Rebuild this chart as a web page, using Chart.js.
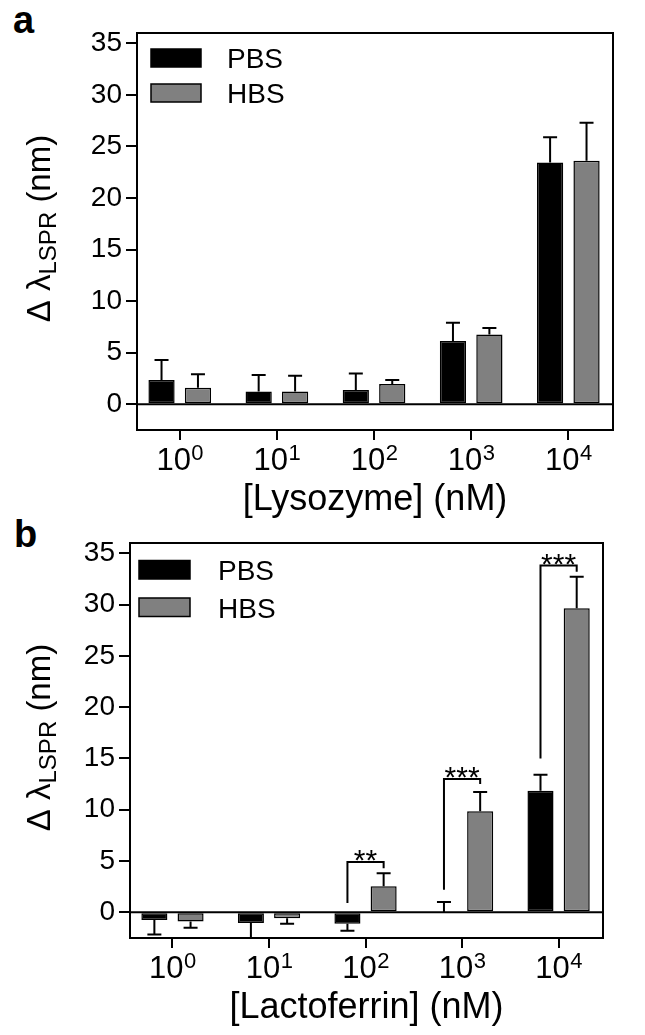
<!DOCTYPE html>
<html>
<head>
<meta charset="utf-8">
<script src="https://cdn.jsdelivr.net/npm/chart.js@4.4.0/dist/chart.umd.min.js"></script>
<style>
  html, body { margin: 0; padding: 0; background: #fff; }
  body { width: 645px; height: 1035px; position: relative; overflow: hidden; font-family: "Liberation Sans", Arial, sans-serif; }
  canvas { position: absolute; left: 0; }
  #chartA { top: 0; }
  #chartB { top: 520px; }
  .tag { position: absolute; font-weight: bold; font-size: 38px; line-height: 1; }
</style>
</head>
<body>
<div class="tag" style="left:13px;top:1px">a</div>
<div class="tag" style="left:14px;top:515px">b</div>
<canvas id="chartA" width="645" height="522"></canvas>
<canvas id="chartB" width="645" height="515"></canvas>
<script>
// ---- data ----
const tickBase = "10";
const exponents = ["0", "1", "2", "3", "4"];   // [concentration] = 10^n nM
const yTicks = [0, 5, 10, 15, 20, 25, 30, 35];
const seriesNames = ["PBS", "HBS"];

// (a) lysozyme
const lysoPBS = [2.35, 1.24, 1.39, 6.12, 23.45];
const lysoPBSErr = [1.95, 1.6, 1.58, 1.78, 2.45];
const lysoHBS = [1.6, 1.24, 1.97, 6.77, 23.6];
const lysoHBSErr = [1.3, 1.53, 0.38, 0.61, 3.7];

// (b) lactoferrin
const lactoPBS = [-0.75, -1.05, -1.1, 0, 11.85];
const lactoPBSErr = [1.4, 1.7, 0.7, 1.0, 1.55];
const lactoHBS = [-0.9, -0.58, 2.55, 9.85, 29.65];
const lactoHBSErr = [0.6, 0.52, 1.25, 1.88, 3.05];

// significance brackets in (b)
const bracketCats = [2, 3, 4];
const bracketLeft = [0.9, 2.2, 15.0];
const bracketTop = [4.9, 13.0, 33.8];
const bracketRight = [4.3, 12.5, 33.2];
const bracketLabels = ["**", "***", "***"];

const FONT = "'Liberation Sans', Arial, sans-serif";
const PBS_COLOR = "#000000";
const HBS_COLOR = "#808080";

// draws frame, zero line, error bars, brackets, legend, tick labels and titles
const decoPlugin = {
  id: "deco",
  afterDatasetsDraw(chart, args, opts) {
    const ctx = chart.ctx;
    const area = chart.chartArea;
    const y = chart.scales.y;
    ctx.save();

    // error bars (one-sided, away from zero)
    ctx.beginPath();
    ctx.rect(area.left, area.top, area.right - area.left, area.bottom - area.top);
    ctx.clip();
    ctx.strokeStyle = "#000";
    ctx.lineWidth = 2;
    chart.data.datasets.forEach((ds, i) => {
      const meta = chart.getDatasetMeta(i);
      meta.data.forEach((bar, j) => {
        const v = ds.data[j].y;
        const e = ds.errors[j];
        const tip = y.getPixelForValue(v >= 0 ? v + e : v - e);
        ctx.beginPath();
        ctx.moveTo(bar.x, bar.y);
        ctx.lineTo(bar.x, tip);
        ctx.moveTo(bar.x - 7, tip);
        ctx.lineTo(bar.x + 7, tip);
        ctx.stroke();
      });
    });
    ctx.restore();
    ctx.save();

    // zero line and frame
    ctx.strokeStyle = "#000";
    ctx.lineWidth = 2;
    const y0 = y.getPixelForValue(0);
    ctx.beginPath();
    ctx.moveTo(area.left, y0);
    ctx.lineTo(area.right, y0);
    ctx.stroke();
    ctx.strokeRect(area.left, area.top, area.right - area.left, area.bottom - area.top);

    // brackets
    const brackets = opts.brackets || [];
    const m0 = chart.getDatasetMeta(0), m1 = chart.getDatasetMeta(1);
    brackets.forEach((b) => {
      const xl = m0.data[b.cat].x, xr = m1.data[b.cat].x;
      const yt = y.getPixelForValue(b.top);
      ctx.beginPath();
      ctx.moveTo(xl, y.getPixelForValue(b.left));
      ctx.lineTo(xl, yt);
      ctx.lineTo(xr, yt);
      ctx.lineTo(xr, y.getPixelForValue(b.right));
      ctx.stroke();
      ctx.fillStyle = "#000";
      ctx.font = "30px " + FONT;
      ctx.textAlign = "center";
      ctx.textBaseline = "alphabetic";
      ctx.fillText(b.label, (xl + xr) / 2, yt + 8);
    });

    // legend
    const lg = opts.legend;
    chart.data.datasets.forEach((ds, i) => {
      const top = lg.y + i * lg.gap;
      ctx.fillStyle = ds.backgroundColor;
      ctx.fillRect(lg.x, top, lg.w, lg.h);
      ctx.lineWidth = 1.5;
      ctx.strokeRect(lg.x, top, lg.w, lg.h);
      ctx.fillStyle = "#000";
      ctx.font = "28px " + FONT;
      ctx.textAlign = "left";
      ctx.textBaseline = "alphabetic";
      ctx.fillText(ds.label, lg.textX, top + lg.h + 1);
    });

    // x tick labels 10^n
    const xs = chart.scales.x;
    exponents.forEach((ex, i) => {
      const px = xs.getPixelForValue(i);
      ctx.font = "31px " + FONT;
      const wMain = ctx.measureText(tickBase).width;
      ctx.font = "22px " + FONT;
      const wSup = ctx.measureText(ex).width;
      const x0 = px - (wMain + wSup) / 2;
      const base = area.bottom + 40;
      ctx.textAlign = "left";
      ctx.font = "31px " + FONT;
      ctx.fillText(tickBase, x0, base);
      ctx.font = "22px " + FONT;
      ctx.fillText(ex, x0 + wMain + 0.5, base - 10);
    });

    // x title
    ctx.font = "36px " + FONT;
    ctx.textAlign = "center";
    ctx.fillText(opts.xTitle, (area.left + area.right) / 2, area.bottom + 80);

    // y title: Δ λ_LSPR (nm)
    const parts = [
      { t: "\u0394 \u03bb", size: 33, dy: 0 },
      { t: "LSPR", size: 24, dy: 6 },
      { t: " (nm)", size: 33, dy: 0 },
    ];
    let total = 0;
    parts.forEach((p) => { ctx.font = p.size + "px " + FONT; p.w = ctx.measureText(p.t).width; total += p.w; });
    ctx.translate(opts.yTitleX, (area.top + area.bottom) / 2 - 3);
    ctx.rotate(-Math.PI / 2);
    ctx.textAlign = "left";
    let cx = -total / 2;
    parts.forEach((p) => {
      ctx.font = p.size + "px " + FONT;
      ctx.fillText(p.t, cx, p.dy);
      cx += p.w;
    });
    ctx.restore();
  },
};

function makePanel(canvasId, pbs, pbsErr, hbs, hbsErr, geo, deco) {
  return new Chart(document.getElementById(canvasId), {
    type: "bar",
    data: {
      datasets: [
        {
          label: seriesNames[0],
          data: pbs.map((v, i) => ({ x: i, y: v })),
          errors: pbsErr,
          backgroundColor: PBS_COLOR,
          borderColor: "#000",
          borderWidth: 1.5,
          borderSkipped: false,
        },
        {
          label: seriesNames[1],
          data: hbs.map((v, i) => ({ x: i, y: v })),
          errors: hbsErr,
          backgroundColor: HBS_COLOR,
          borderColor: "#000",
          borderWidth: 1.5,
          borderSkipped: false,
        },
      ],
    },
    options: {
      responsive: false,
      animation: false,
      devicePixelRatio: 1,
      categoryPercentage: 0.75,
      barPercentage: 0.72,
      layout: { autoPadding: false, padding: { left: 0, right: geo.right, top: geo.top, bottom: 0 } },
      scales: {
        x: {
          type: "linear",
          min: -0.44,
          max: 4.46,
          offset: false,
          afterBuildTicks: (axis) => { axis.ticks = exponents.map((_, i) => ({ value: i })); },
          afterFit: (axis) => { axis.height = geo.xAxisH; },
          ticks: { display: false },
          border: { display: false },
          grid: { offset: false, drawOnChartArea: false, drawTicks: true, tickLength: 10, color: "#000", lineWidth: 2 },
        },
        y: {
          min: -2.5,
          max: 36,
          afterBuildTicks: (axis) => { axis.ticks = yTicks.map((v) => ({ value: v })); },
          afterFit: (axis) => { axis.width = geo.yAxisW; },
          ticks: { color: "#000", font: { family: FONT, size: 28 }, padding: 4 },
          border: { display: false },
          grid: { drawOnChartArea: false, drawTicks: true, tickLength: 11, color: "#000", lineWidth: 2 },
        },
      },
      plugins: {
        legend: { display: false },
        tooltip: { enabled: false },
        deco,
      },
    },
    plugins: [decoPlugin],
  });
}

makePanel("chartA", lysoPBS, lysoPBSErr, lysoHBS, lysoHBSErr,
  { right: 32, top: 33, xAxisH: 92, yAxisW: 137 },
  { xTitle: "[Lysozyme] (nM)", yTitleX: 50, legend: { x: 151, y: 49, w: 50, h: 18, gap: 35, textX: 227 }, brackets: [] });

makePanel("chartB", lactoPBS, lactoPBSErr, lactoHBS, lactoHBSErr,
  { right: 42, top: 23, xAxisH: 97, yAxisW: 130 },
  {
    xTitle: "[Lactoferrin] (nM)",
    yTitleX: 50,
    legend: { x: 139, y: 40.5, w: 51, h: 18.5, gap: 37.5, textX: 218 },
    brackets: bracketCats.map((c, i) => ({ cat: c, left: bracketLeft[i], top: bracketTop[i], right: bracketRight[i], label: bracketLabels[i] })),
  });
</script>
</body>
</html>
